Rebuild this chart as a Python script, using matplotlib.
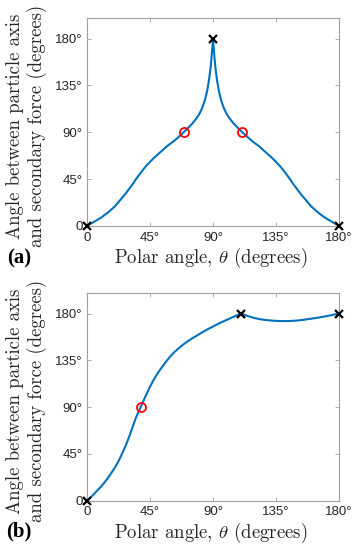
import matplotlib
matplotlib.use('Agg')
import matplotlib.pyplot as plt

plt.rcParams['mathtext.fontset'] = 'cm'

# panel (a): symmetric curve with cusp at 90 deg
theta_a = [0, 2.5, 5, 7.5, 10, 12.5, 15, 17.5, 20, 22.5, 25, 27.5, 30, 32.5, 35,
           37.5, 40, 42.5, 45, 47.5, 50, 52.5, 55, 57.5, 60, 62.5, 65, 67.5, 69,
           72, 75, 78, 80, 82, 83, 84, 85, 86, 87, 88, 88.5, 89, 89.5, 90,
           90.5, 91, 91.5, 92, 93, 94, 95, 96, 97, 98, 100, 102, 105, 108, 111,
           112.5, 115, 117.5, 120, 122.5, 125, 127.5, 130, 132.5, 135, 137.5, 140,
           142.5, 145, 147.5, 150, 152.5, 155, 157.5, 160, 162.5, 165, 167.5, 170,
           172.5, 175, 177.5, 180]
angle_a = [0, 2, 4, 6, 8, 10.5, 13, 16, 19, 23, 27, 31, 35.5, 40, 45,
           49.5, 54, 58, 61.5, 65, 68, 71, 74, 77, 79.5, 82, 85, 88, 90,
           94, 98, 103, 107, 112.5, 116, 120, 125, 131, 139, 149, 155, 163, 171, 180,
           171, 163, 155, 149, 139, 131, 125, 120, 116, 112.5, 107, 103, 98, 94, 90,
           88, 85, 82, 79.5, 77, 74, 71, 68, 65, 61.5, 58, 54,
           49.5, 45, 40, 35.5, 31, 27, 23, 19, 16, 13, 10.5, 8,
           6, 4, 2, 0]
cross_a_theta = [0, 90, 180]
cross_a_angle = [0, 180, 0]
circle_a_theta = [69, 111]
circle_a_angle = [90, 90]

# panel (b)
theta_b = [0, 2.5, 5, 7.5, 10, 12.5, 15, 17.5, 20, 22.5, 25, 27.5, 30, 32.5, 35,
           37.5, 38.3, 40, 42.5, 45, 47.5, 50, 52.5, 55, 57.5, 60, 62.5, 65, 70,
           75, 80, 85, 90, 95, 100, 105, 110, 115, 120, 125, 130, 135, 140, 145,
           150, 155, 160, 165, 170, 175, 180]
angle_b = [0, 3, 6.5, 10, 13.5, 17.5, 22, 27, 32, 38, 45, 52.5, 61, 70.5, 80,
           87.5, 90, 95, 102.5, 109.5, 116, 121.5, 126.5, 131, 135.5, 139.5, 143,
           146, 151.5, 156, 160, 164, 167.5, 171, 174, 177, 180, 177.5, 175.5,
           174.2, 173.4, 172.9, 172.7, 172.8, 173.2, 174, 175, 176, 177.2, 178.5, 180]
cross_b_theta = [0, 110, 180]
cross_b_angle = [0, 180, 180]
circle_b_theta = [38.3]
circle_b_angle = [90]

ticks = [0, 45, 90, 135, 180]
tick_labels = ['0', '45°', '90°', '135°', '180°']
ylab = 'Angle between particle axis\nand secondary force (degrees)'
xlab = r'Polar angle, $\theta$ (degrees)'
panel_tags = ['(a)', '(b)']

fig = plt.figure(figsize=(3.58, 5.5), dpi=100)
W, H = 358, 550
boxes = [(87, 17.7, 339, 226), (87, 292.7, 339, 500.7)]

data = [(theta_a, angle_a, cross_a_theta, cross_a_angle, circle_a_theta, circle_a_angle),
        (theta_b, angle_b, cross_b_theta, cross_b_angle, circle_b_theta, circle_b_angle)]

gray = '#a0a0a0'
for i, (box, d) in enumerate(zip(boxes, data)):
    x0, y0, x1, y1 = box
    ax = fig.add_axes([x0 / W, 1 - y1 / H, (x1 - x0) / W, (y1 - y0) / H])
    th, an, cx, cy, ox, oy = d
    ax.plot(th, an, color='#0072BD', lw=1.5, zorder=2)
    ax.plot(cx, cy, 'x', color='black', ms=6, mew=1.6, clip_on=False, zorder=4)
    ax.plot(ox, oy, 'o', mfc='none', mec='red', ms=6.5, mew=1.3, zorder=3)
    ax.set_xlim(0, 180)
    ax.set_ylim(0, 200)
    ax.set_xticks(ticks)
    ax.set_xticklabels(tick_labels)
    ax.set_yticks(ticks)
    ax.set_yticklabels(tick_labels)
    for lab in ax.get_xticklabels() + ax.get_yticklabels():
        lab.set_fontfamily(['Liberation Sans', 'DejaVu Sans'])
        lab.set_fontsize(9.5)
        lab.set_color('#262626')
    ax.tick_params(direction='in', length=3, width=0.6, color=gray,
                   top=True, right=True)
    ax.tick_params(axis='x', pad=4)
    ax.tick_params(axis='y', pad=3)
    for s in ax.spines.values():
        s.set_color(gray)
        s.set_linewidth(0.8)
    ax.set_xlabel(xlab, family='cmr10', fontsize=13.5, color='#262626', va='center')
    ax.xaxis.set_label_coords(0.49, -0.155)
    ax.set_ylabel(ylab, family='cmr10', fontsize=13.5, color='#262626',
                  va='center', ha='center', linespacing=1.15)
    ax.yaxis.set_label_coords(-0.24, 0.48)
    fig.text(19 / W, 1 - (258 + 273 * i) / H, panel_tags[i],
             family=['Liberation Serif', 'DejaVu Serif'],
             weight='bold', fontsize=15, ha='center', va='center')

fig.savefig('out.png', dpi=100)
